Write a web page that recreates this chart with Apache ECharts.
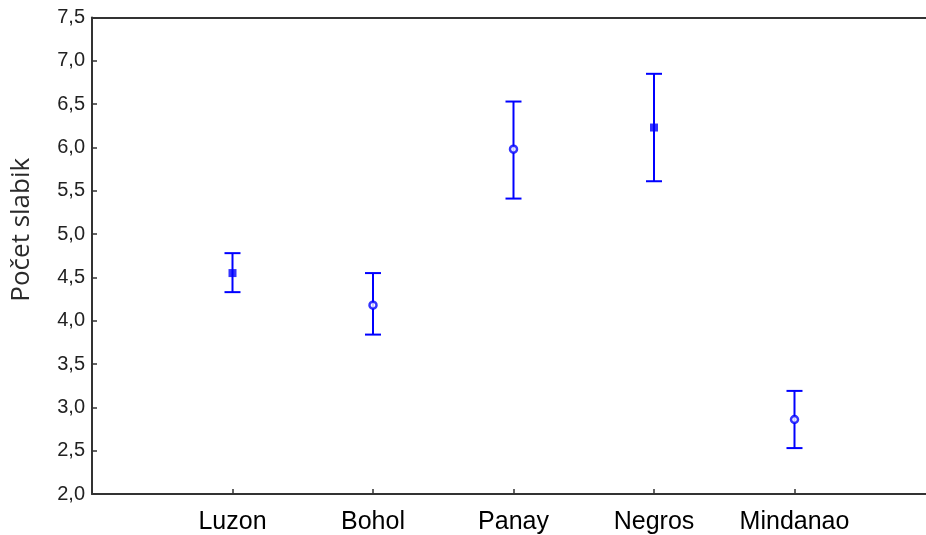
<!DOCTYPE html>
<html>
<head>
<meta charset="utf-8">
<script src="https://cdn.jsdelivr.net/npm/echarts@6/dist/echarts.min.js"></script>
<style>
  html, body { margin: 0; padding: 0; background: #fff; }
  #chart { width: 926px; height: 535px; }
</style>
</head>
<body>
<div id="chart"></div>
<script>
// ostrovy a hodnoty (průměr + interval)
var islands = ['Luzon', 'Bohol', 'Panay', 'Negros', 'Mindanao']
var means = [4.55, 4.18, 5.98, 6.23, 2.86]
var lows = [4.33, 3.84, 5.41, 5.61, 2.53]
var highs = [4.78, 4.55, 6.53, 6.85, 3.19]
// plný čtverec nebo prázdné kolečko
var markers = ['rect', 'circle', 'circle', 'rect', 'circle']

var blue = '#0000ff'
var chart = echarts.init(document.getElementById('chart'))

var barData = islands.map(function(name, i) {
  return [i + 1, lows[i], highs[i]]
})
var pointData = islands.map(function(name, i) {
  var filled = markers[i] === 'rect'
  return {
    value: [i + 1, means[i]],
    symbol: markers[i],
    symbolSize: filled ? 8 : 7,
    itemStyle: filled
      ? { color: blue, borderWidth: 0 }
      : { color: '#fff', borderColor: blue, borderWidth: 2.5 }
  }
})

var axisLine = { lineStyle: { color: '#333', width: 2 } }
var axisTick = { inside: true, length: 5, lineStyle: { color: '#333', width: 1.5 } }

chart.setOption({
  animation: false,
  backgroundColor: '#fff',
  grid: {
    left: 92,
    top: 17.5,
    right: 0,
    bottom: 39.5
  },
  xAxis: [
    {
      type: 'value',
      min: 0,
      max: 5.936,
      interval: 1,
      splitLine: { show: false },
      axisLine: axisLine,
      axisTick: axisTick,
      axisLabel: {
        margin: 16,
        color: '#000',
        fontFamily: 'Liberation Sans',
        fontSize: 25,
        showMaxLabel: false,
        formatter: function(v) {
          return islands[v - 1] || ''
        }
      }
    },
    {
      // horní čára rámečku
      type: 'value',
      position: 'top',
      min: 0,
      max: 5.936,
      splitLine: { show: false },
      axisLine: axisLine,
      axisTick: { show: false },
      axisLabel: { show: false }
    }
  ],
  yAxis: {
    type: 'value',
    min: 2,
    max: 7.5,
    interval: 0.5,
    name: 'Počet slabik',
    nameLocation: 'middle',
    nameGap: 57,
    nameTextStyle: {
      color: '#2a2a2a',
      fontFamily: 'Open Sans',
      fontSize: 26,
      padding: [0, 0, 0, 52]
    },
    splitLine: { show: false },
    axisLine: axisLine,
    axisTick: axisTick,
    axisLabel: {
      margin: 7,
      color: '#222',
      fontFamily: 'Liberation Sans',
      fontSize: 20,
      formatter: function(v) {
        return v.toFixed(1).replace('.', ',')
      }
    }
  },
  series: [
    {
      type: 'custom',
      data: barData,
      renderItem: function(params, api) {
        var x = api.value(0)
        var lo = api.coord([x, api.value(1)])
        var hi = api.coord([x, api.value(2)])
        var half = 8
        var style = { stroke: blue, lineWidth: 2 }
        return {
          type: 'group',
          children: [
            { type: 'line', shape: { x1: lo[0], y1: lo[1], x2: hi[0], y2: hi[1] }, style: style },
            { type: 'line', shape: { x1: hi[0] - half, y1: hi[1], x2: hi[0] + half, y2: hi[1] }, style: style },
            { type: 'line', shape: { x1: lo[0] - half, y1: lo[1], x2: lo[0] + half, y2: lo[1] }, style: style }
          ]
        }
      },
      z: 2
    },
    {
      type: 'scatter',
      data: pointData,
      z: 3
    }
  ]
})
</script>
</body>
</html>
